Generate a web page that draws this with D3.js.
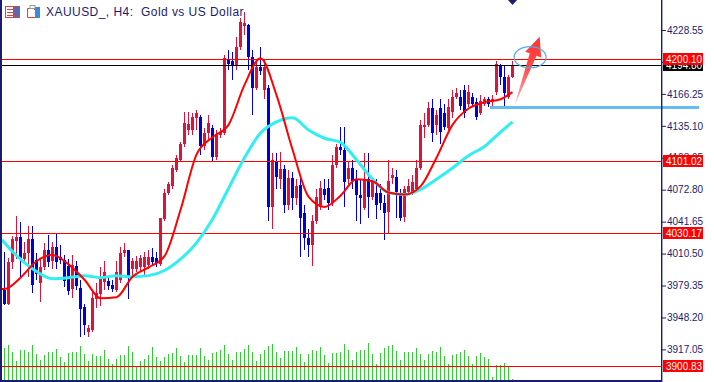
<!DOCTYPE html>
<html><head><meta charset="utf-8">
<script src="https://cdn.jsdelivr.net/npm/d3@7"></script>
<style>html,body{margin:0;padding:0;background:#fff;}svg{display:block;}</style>
</head><body>
<svg id="c" width="714" height="382"></svg>
<script>
// ---------- DATA ----------
const opens = [3975,3961,4002,4023,4027,4005,4011,4025,4004,3982,
 3997,4014,4003,4017,4007,4004,3998,3976,3998,3977,
 3958,3934,3936,3966,3971,3983,3984,3980,3975,3985,
 4011,4014,3995,3995,3997,3997,3999,4007,4006,4000,
 4044,4070,4076,4092,4102,4117,4131,4131,4143,4144,
 4115,4128,4133,4105,4126,4128,4200,4198,4193,4212,
 4232,4233,4202,4172,4192,4170,4172,4056,4101,4083,
 4093,4058,4084,4065,4077,4050,4026,4019,4042,4056,
 4073,4074,4060,4097,4114,4112,4083,4094,4083,4068,
 4055,4083,4066,4070,4070,4060,4051,4084,4085,4068,
 4046,4071,4070,4073,4094,4134,4136,4152,4136,4152,
 4148,4133,4149,4163,4163,4170,4156,4163,4158,4148,
 4156,4161,4158,4168,4193,4183,4163,4183];
const highs = [4012,4006,4028,4047,4041,4022,4037,4037,4011,4005,
 4021,4029,4022,4031,4019,4009,4005,4009,4003,3985,
 3961,3941,3975,3982,3997,4003,3989,3985,4003,4017,
 4021,4014,4006,4008,4009,4012,4014,4016,4012,4009,
 4073,4080,4097,4107,4119,4149,4149,4148,4151,4146,
 4133,4146,4136,4131,4133,4204,4209,4207,4222,4240,
 4246,4234,4209,4200,4212,4200,4175,4109,4109,4110,
 4097,4092,4090,4083,4084,4058,4034,4048,4073,4081,
 4083,4083,4107,4117,4134,4134,4100,4102,4092,4083,
 4109,4109,4083,4083,4078,4068,4102,4094,4092,4073,
 4076,4083,4087,4102,4141,4148,4158,4161,4151,4161,
 4156,4161,4170,4172,4170,4175,4175,4167,4162,4165,
 4163,4163,4165,4198,4195,4193,4185,4198];
const lows = [3960,3960,3995,4005,3988,4000,3988,3972,3985,3963,
 3994,3997,3995,3995,4000,3978,3970,3967,3975,3929,
 3931,3929,3934,3957,3959,3975,3975,3973,3973,3982,
 4007,3966,3989,3993,3993,3990,3995,3999,3997,3998,
 4042,4068,4073,4090,4100,4114,4126,4126,4131,4107,
 4112,4122,4100,4102,4123,4126,4190,4180,4190,4209,
 4224,4190,4146,4170,4185,4161,4042,4034,4073,4073,
 4050,4053,4053,4058,4007,4014,4007,3998,4039,4053,
 4063,4053,4057,4094,4107,4056,4078,4073,4042,4039,
 4053,4045,4063,4044,4053,4024,4031,4078,4045,4042,
 4041,4068,4068,4071,4092,4123,4134,4119,4126,4117,
 4131,4131,4143,4161,4151,4143,4153,4153,4141,4146,
 4154,4153,4153,4165,4175,4154,4161,4182];
const closes = [3961,4002,4025,4027,4006,4011,4025,3980,3991,3997,
 4014,4002,4017,4002,4004,3984,3974,3999,3979,3956,
 3941,3938,3967,3972,3987,3993,3979,3976,3993,4011,
 4014,3988,4003,4003,4006,4007,4007,4002,4001,4045,
 4070,4078,4094,4104,4117,4138,4137,4144,4148,4115,
 4128,4138,4105,4126,4129,4201,4195,4193,4212,4236,
 4235,4202,4172,4192,4189,4192,4056,4102,4085,4093,
 4058,4084,4065,4076,4045,4026,4019,4042,4066,4074,
 4068,4060,4097,4114,4112,4080,4094,4081,4068,4065,
 4083,4066,4080,4058,4060,4050,4081,4087,4071,4045,
 4073,4076,4080,4094,4136,4136,4152,4128,4146,4129,
 4134,4153,4163,4167,4154,4148,4168,4156,4144,4159,
 4161,4156,4161,4195,4183,4167,4183,4194.80];
const volumes = [9800,10800,8700,6000,9300,9300,8700,10800,8100,6300,
 7800,8700,8700,9600,7200,5700,8400,8700,8700,10500,
 8100,6000,8100,7500,7500,9300,6600,5100,6600,7800,
 7800,10500,8700,4200,6000,6600,7800,10200,7200,6000,
 7200,8100,8400,9900,7500,5700,7800,7800,7800,9900,
 7500,6300,8400,8700,9300,10800,8100,6300,8700,8700,
 9600,10800,8700,6000,8100,9300,10500,11100,8700,6900,
 9000,9000,9000,10200,8100,5700,8100,9300,9000,10200,
 7800,5400,8400,8400,8700,11100,9300,6300,8700,9300,
 9300,11400,8100,5100,8400,9900,10500,10800,9000,6300,
 8700,8700,8700,9900,8100,6300,8100,9000,8700,10200,
 7500,5100,7800,8100,8700,9300,7500,5100,7500,8400,
 7200,6600,1200,4800,4800,5400,4200,600];
const maIndex = [-1,0,4,8,12,16,20,24,28,32,36,40,44,48,52,56,60,64,68,72,76,80,84,88,92,96,100,104,108,112,116,120,124,127];
const maFast = [3976,3976,3987,4003,4009,4000,3985,3967,3968,3988,3997,4008,4053,4107,4124,4136,4175,4201,4165,4112,4066,4056,4067,4083,4081,4070,4068,4076,4104,4136,4152,4158,4161,4168];
const maSlow = [4024,4021,4005,3993,3986,3987,3989,3987,3989,3988,3989,3994,4005,4021,4044,4074,4104,4128,4139,4143,4131,4123,4119,4102,4083,4070,4068,4073,4083,4094,4106,4115,4129,4139];
const tickValues = [4228.55,4197.40,4166.25,4135.10,4103.95,4072.80,4041.65,4010.50,3979.35,3948.20,3917.05];
const hiddenTicks = [4197.40];
const levelPrices = [4200.10,4101.02,4030.17,3900.83];
const bidPrice = 4194.80;
const supportPrice = 4153;
const arrowTail = [127.5, 4155];
const arrowTip = [133.8, 4222];
const ellipseCenter = [131.4, 4202];
const titleText = "XAUUSD_, H4:  Gold vs US Dollar";

// ---------- SCALES ----------
const svg = d3.select("#c");
const W = 714, H = 382, axisX = 661;
const x = d3.scaleLinear().domain([0,127]).range([4.5,512.5]);
const y = d3.scaleLinear().domain([3917.05,4228.55]).range([349.4,30]);
const v = d3.scaleLinear().domain([0,12000]).range([381,341]);
const NAVY = "#1c1c6e", BULL = "#dc143c", BEAR = "#0000d8";
const FONT = "Liberation Sans, Arial, sans-serif";

svg.append("rect").attr("width",W).attr("height",H).attr("fill","#fff");

// volume bars
svg.append("g").selectAll("rect").data(volumes).join("rect")
  .attr("x",(d,i)=>Math.round(x(i)-0.5)).attr("width",1)
  .attr("y",d=>Math.round(v(d))).attr("height",d=>381-Math.round(v(d)))
  .attr("fill","#32cd32");

// candles
const idx = d3.range(opens.length);
const cg = svg.append("g");
cg.selectAll("rect.w").data(idx).join("rect").attr("class","w")
  .attr("x",i=>Math.floor(x(i))).attr("width",1)
  .attr("y",i=>Math.round(y(highs[i])))
  .attr("height",i=>Math.max(1,Math.round(y(lows[i]))-Math.round(y(highs[i]))))
  .attr("fill",i=>closes[i]>=opens[i]?BULL:BEAR);
cg.selectAll("rect.b").data(idx).join("rect").attr("class","b")
  .attr("x",i=>Math.round(x(i)-1.5)).attr("width",3)
  .attr("y",i=>Math.round(y(Math.max(opens[i],closes[i]))))
  .attr("height",i=>Math.max(1,Math.round(y(Math.min(opens[i],closes[i])))-Math.round(y(Math.max(opens[i],closes[i])))))
  .attr("fill",i=>closes[i]>=opens[i]?BULL:BEAR);

// horizontal level lines
levelPrices.forEach(p=>{
  const yy=Math.round(y(p));
  svg.append("rect").attr("x",2).attr("width",axisX-2).attr("y",yy).attr("height",1)
    .attr("fill","#ff0000").attr("shape-rendering","crispEdges");
});
{
  const yy=Math.round(y(bidPrice));
  svg.append("rect").attr("x",2).attr("width",axisX-2).attr("y",yy).attr("height",1)
    .attr("fill","#000").attr("shape-rendering","crispEdges");
}

// moving averages
const line = d3.line().x((d,i)=>Math.max(2,x(maIndex[i]))).y(d=>y(d)).curve(d3.curveMonotoneX);
svg.append("path").attr("d",line(maSlow)).attr("fill","none")
  .attr("stroke","#30eef2").attr("stroke-width",3);
svg.append("path").attr("d",line(maFast)).attr("fill","none")
  .attr("stroke","#ff0000").attr("stroke-width",2);

// support line (light blue)
{
  const yy=Math.round(y(supportPrice));
  svg.append("rect").attr("x",490).attr("width",209).attr("y",yy-1).attr("height",3)
    .attr("fill","#55b4f0").attr("opacity",0.9);
}

// arrow
{
  const tx=x(arrowTail[0]), ty=y(arrowTail[1]), hx=x(arrowTip[0]), hy=y(arrowTip[1]);
  const dx=hx-tx, dy=hy-ty, L=Math.hypot(dx,dy), ux=dx/L, uy=dy/L, nx=-uy, ny=ux;
  const hl=19, hw=8.5, sw=3.6;
  const bx=hx-ux*hl, by=hy-uy*hl;
  const pts=[[tx,ty],[bx+nx*sw,by+ny*sw],[bx+nx*hw,by+ny*hw],[hx,hy],[bx-nx*hw,by-ny*hw],[bx-nx*sw,by-ny*sw]];
  const defs=svg.append("defs");
  const gr=defs.append("linearGradient").attr("id","ag").attr("gradientUnits","userSpaceOnUse")
    .attr("x1",tx).attr("y1",ty).attr("x2",hx).attr("y2",hy);
  gr.append("stop").attr("offset","0").attr("stop-color","#ffc0c0");
  gr.append("stop").attr("offset","0.55").attr("stop-color","#ff4848");
  gr.append("stop").attr("offset","1").attr("stop-color","#ff3434");
  svg.append("path").attr("d","M"+pts.map(p=>p.join(",")).join("L")+"Z").attr("fill","url(#ag)");
  svg.append("ellipse").attr("cx",x(ellipseCenter[0])).attr("cy",y(ellipseCenter[1]))
    .attr("rx",16).attr("ry",10.5).attr("fill","none").attr("stroke","#5aa8e8").attr("stroke-width",1.2);
}

// frame
svg.append("rect").attr("x",0).attr("y",0).attr("width",2).attr("height",382).attr("fill",NAVY);
svg.append("rect").attr("x",0).attr("y",380).attr("width",axisX+1).attr("height",2).attr("fill",NAVY);
svg.append("rect").attr("x",axisX).attr("y",0).attr("width",1.4).attr("height",382).attr("fill",NAVY);
// shift marker
svg.append("path").attr("d",`M${x(127)-4.5},0L${x(127)+4.5},0L${x(127)},5Z`).attr("fill",NAVY);

// price axis
const axis = d3.axisRight(y).tickValues(tickValues).tickSize(4).tickPadding(1)
  .tickFormat(d=>hiddenTicks.includes(d)?"":d3.format(".2f")(d));
const ag = svg.append("g").attr("transform",`translate(${axisX+1},0)`).call(axis);
ag.select(".domain").remove();
ag.selectAll("line").attr("stroke",NAVY);
ag.selectAll("text").attr("fill",NAVY).attr("font-family",FONT).attr("font-size","10px");

// level labels
function label(p,bg){
  const yy=Math.round(y(p));
  const g=svg.append("g");
  g.append("rect").attr("x",663).attr("y",yy-6).attr("width",40).attr("height",12).attr("fill",bg);
  g.append("text").attr("x",666).attr("y",yy+4).attr("fill","#fff").attr("font-family",FONT)
    .attr("font-size","10px").text(d3.format(".2f")(p));
}
label(bidPrice,"#000");
levelPrices.forEach(p=>label(p,"#ff0000"));

// title + icons
svg.append("text").attr("x",46).attr("y",16).attr("fill",NAVY).attr("font-family",FONT)
  .attr("font-size","12px").attr("letter-spacing","0.45px")
  .attr("xml:space","preserve").style("white-space","pre").text(titleText);
const ic=svg.append("g");
ic.append("rect").attr("x",5.5).attr("y",6.5).attr("width",14).attr("height",11).attr("fill","none").attr("stroke","#e04040");
ic.append("rect").attr("x",13).attr("y",7).attr("width",6).attr("height",10).attr("fill","#3b6fd0");
[9.5,12.5,15.5].forEach(yy=>ic.append("line").attr("x1",7).attr("x2",18).attr("y1",yy).attr("y2",yy).attr("stroke","#e04040"));
ic.append("path").attr("d","M27.5,8.5h6l2,2v7h-8z").attr("fill","none").attr("stroke","#e04040");
ic.append("rect").attr("x",35).attr("y",7).attr("width",5).attr("height",11).attr("fill","#3b8ad8");
ic.append("rect").attr("x",30).attr("y",5.5).attr("width",5).attr("height",3).attr("fill","none").attr("stroke","#999");
</script>
</body></html>
